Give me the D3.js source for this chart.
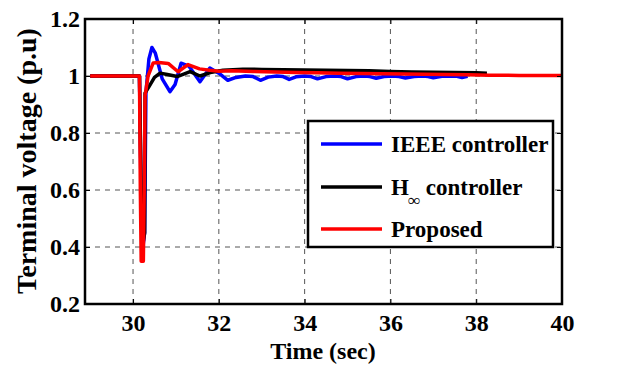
<!DOCTYPE html>
<html>
<head>
<meta charset="utf-8">
<script src="https://cdn.jsdelivr.net/npm/d3@7"></script>
<style>
  body { margin: 0; background: #fff; }
  text { font-family: "Liberation Serif", "Times New Roman", serif; font-weight: bold; }
</style>
</head>
<body>
<div id="canvas"></div>
<script>
"use strict"

/* data */
let xTicks = [30, 32, 34, 36, 38, 40];
let yTicks = [0.2, 0.4, 0.6, 0.8, 1, 1.2];

let tIEEE = [29, 30.15, 30.19, 30.23, 30.27, 30.3, 30.37, 30.44, 30.52, 30.68, 30.86, 30.98, 31.12, 31.3, 31.56, 31.79, 32.0, 32.21, 32.4, 32.62, 32.8, 32.97, 33.15, 33.35, 33.5, 33.64, 33.8, 34.0, 34.15, 34.3, 34.5, 34.7, 34.85, 35.0, 35.2, 35.4, 35.52, 35.67, 35.85, 36.05, 36.2, 36.35, 36.55, 36.75, 36.88, 37.0, 37.2, 37.4, 37.55, 37.67, 37.8];
let vIEEE = [1, 1, 0.55, 0.4, 0.45, 0.94, 1.06, 1.1, 1.08, 0.99, 0.945, 0.97, 1.045, 1.035, 0.98, 1.028, 1.01, 0.985, 0.995, 1.0, 0.998, 0.985, 0.996, 1.0, 0.998, 0.988, 0.997, 1.0, 0.998, 0.99, 0.998, 1.0, 0.998, 0.99, 0.998, 1.0, 0.998, 0.992, 0.998, 1.0, 0.998, 0.993, 0.998, 1.0, 0.998, 0.994, 0.999, 1.0, 0.999, 0.995, 0.999];

let tHinf = [29, 30.15, 30.2, 30.24, 30.27, 30.28, 30.4, 30.5, 30.63, 30.8, 31.03, 31.33, 31.56, 31.8, 32.1, 32.56, 33.0, 33.5, 34.0, 34.5, 35.0, 35.5, 36.0, 36.5, 37.0, 37.5, 38.0, 38.25];
let vHinf = [1, 1, 0.5, 0.42, 0.45, 0.94, 0.97, 0.995, 1.01, 1.005, 0.998, 1.015, 1.0, 1.012, 1.02, 1.024, 1.023, 1.022, 1.021, 1.02, 1.019, 1.018, 1.016, 1.014, 1.013, 1.012, 1.011, 1.01];

let tProp = [29, 30.15, 30.17, 30.19, 30.24, 30.26, 30.28, 30.35, 30.47, 30.6, 30.82, 31.05, 31.28, 31.55, 31.79, 32.0, 32.3, 32.8, 33.3, 33.8, 34.3, 34.8, 35.3, 35.8, 36.3, 36.8, 37.3, 37.8, 38.3, 39.0, 40.0];
let vProp = [1, 1, 0.6, 0.35, 0.35, 0.6, 0.93, 1.0, 1.046, 1.047, 1.044, 1.015, 1.04, 1.025, 1.02, 1.017, 1.018, 1.016, 1.014, 1.012, 1.011, 1.01, 1.009, 1.008, 1.007, 1.006, 1.005, 1.004, 1.003, 1.002, 1.002];

let seriesNames = ["IEEE controller", "H", "Proposed"];
let seriesColors = ["#0000ff", "#000000", "#ff0000"];

let W = 644, H = 365;
let pLeft = 85, pRight = 562, pTop = 19, pBottom = 304;

let drawing = d3.select("#canvas")
    .append("svg")
    .attr("width", W)
    .attr("height", H);

let x = d3.scaleLinear().domain([28.88, 40]).range([pLeft, pRight]);
let y = d3.scaleLinear().domain([0.2, 1.2]).range([pBottom, pTop]);

/* grid */
let gridColor = "#555";
drawing.selectAll(".vgrid")
    .data(xTicks.filter(d => d < 40))
    .enter().append("line")
    .attr("x1", d => x(d)).attr("x2", d => x(d))
    .attr("y1", pTop).attr("y2", pBottom)
    .attr("stroke", gridColor).attr("stroke-width", 1)
    .attr("stroke-dasharray", "5,5");

drawing.selectAll(".hgrid")
    .data(yTicks.filter(d => d > 0.2 && d < 1.2))
    .enter().append("line")
    .attr("x1", pLeft).attr("x2", pRight)
    .attr("y1", d => y(d)).attr("y2", d => y(d))
    .attr("stroke", gridColor).attr("stroke-width", 1)
    .attr("stroke-dasharray", "5,5");

/* the three curves */
let line = d3.line().x(d => x(d[0])).y(d => y(d[1]));
let curves = [
    d3.zip(tIEEE, vIEEE),
    d3.zip(tHinf, vHinf),
    d3.zip(tProp, vProp)
];
curves.forEach((c, i) => {
    drawing.append("path")
        .attr("d", line(c))
        .attr("fill", "none")
        .attr("stroke", seriesColors[i])
        .attr("stroke-width", 3.5)
        .attr("stroke-linejoin", "round");
});

/* axes (inward ticks, MATLAB box style) */
let fontTick = "24px";
let xAxis = drawing.append("g")
    .attr("transform", "translate(0," + pBottom + ")")
    .call(d3.axisBottom(x).tickValues(xTicks).tickSize(-5).tickFormat(d3.format("d")));
xAxis.selectAll("text").attr("dy", null).attr("y", 27);

drawing.append("g")
    .attr("transform", "translate(" + pLeft + ",0)")
    .call(d3.axisLeft(y).tickValues(yTicks).tickSize(-5).tickPadding(5).tickFormat(d => d === 1 ? "1" : d3.format(".1f")(d)));
drawing.append("g")
    .attr("transform", "translate(0," + pTop + ")")
    .call(d3.axisTop(x).tickValues(xTicks).tickSize(-5).tickFormat(""));
drawing.append("g")
    .attr("transform", "translate(" + pRight + ",0)")
    .call(d3.axisRight(y).tickValues(yTicks).tickSize(-5).tickFormat(""));

drawing.selectAll(".domain").remove();
drawing.selectAll(".tick line").attr("stroke", "#000").attr("stroke-width", 1);
drawing.selectAll(".tick text")
    .style("font-family", "'Liberation Serif', serif")
    .style("font-size", fontTick)
    .style("font-weight", "bold")
    .attr("fill", "#000");

drawing.append("rect")
    .attr("x", pLeft).attr("y", pTop)
    .attr("width", pRight - pLeft).attr("height", pBottom - pTop)
    .attr("fill", "none").attr("stroke", "#000").attr("stroke-width", 2.5);

/* axis labels */
drawing.append("text")
    .attr("x", 323).attr("y", 359)
    .attr("text-anchor", "middle")
    .style("font-size", "24px")
    .text("Time (sec)");

drawing.append("text")
    .attr("transform", "translate(36,161) rotate(-90)")
    .attr("text-anchor", "middle")
    .style("font-size", "28px")
    .text("Terminal voltage (p.u)");

/* legend */
let lg = drawing.append("g");
lg.append("rect")
    .attr("x", 308).attr("y", 121)
    .attr("width", 245).attr("height", 126)
    .attr("fill", "#fff").attr("stroke", "#000").attr("stroke-width", 2.5);

let rowY = [144, 187, 229];
seriesNames.forEach((name, i) => {
    lg.append("line")
        .attr("x1", 321).attr("x2", 382)
        .attr("y1", rowY[i]).attr("y2", rowY[i])
        .attr("stroke", seriesColors[i]).attr("stroke-width", 3.5);
    let t = lg.append("text")
        .attr("x", 391).attr("y", rowY[i] + 8)
        .style("font-size", "23px");
    if (i === 1) {
        t.append("tspan").text("H");
        t.append("tspan").attr("dx", -1).attr("dy", 11).style("font-size", "17px").text("\u221E");
        t.append("tspan").attr("dy", -11).text(" controller");
    } else {
        t.text(name);
    }
});
</script>
</body>
</html>
